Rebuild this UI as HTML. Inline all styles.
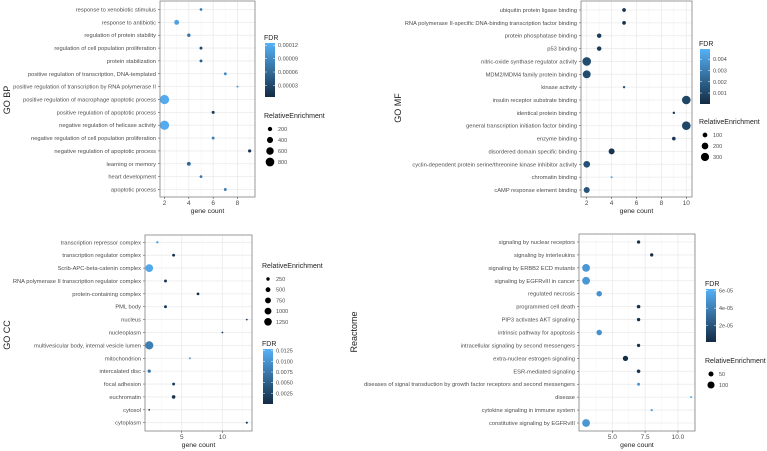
<!DOCTYPE html>
<html><head><meta charset="utf-8">
<style>
html,body{margin:0;padding:0;background:#fff;}
svg{display:block;font-family:"Liberation Sans",sans-serif;}
</style></head><body>
<svg id="c" width="767" height="451" viewBox="0 0 767 451"></svg>
<script>
// ---- GO BP ----
const bpTerms=["response to xenobiotic stimulus","response to antibiotic","regulation of protein stability","regulation of cell population proliferation","protein stabilization","positive regulation of transcription, DNA-templated","positive regulation of transcription by RNA polymerase II","positive regulation of macrophage apoptotic process","positive regulation of apoptotic process","negative regulation of helicase activity","negative regulation of cell population proliferation","negative regulation of apoptotic process","learning or memory","heart development","apoptotic process"];
const bpCount=[5,3,4,5,5,7,8,2,6,2,6,9,4,5,7];
const bpRE=[80,250,120,90,90,90,45,900,100,900,85,110,160,80,90];
const bpFDR=[0.00008,0.00011,0.00007,0.00003,0.00005,0.00009,0.00011,0.00012,0.00002,0.00012,0.00008,0.00001,0.00006,0.00007,0.00008];
const bpXTicks=[2,4,6,8];
const bpFdrTicks=[0.00012,0.00009,0.00006,0.00003];
const bpFdrLabels=["0.00012","0.00009","0.00006","0.00003"];
const bpReTicks=[200,400,600,800];
// ---- GO MF ----
const mfTerms=["ubiquitin protein ligase binding","RNA polymerase II-specific DNA-binding transcription factor binding","protein phosphatase binding","p53 binding","nitric-oxide synthase regulator activity","MDM2/MDM4 family protein binding","kinase activity","insulin receptor substrate binding","identical protein binding","general transcription initiation factor binding","enzyme binding","disordered domain specific binding","cyclin-dependent protein serine/threonine kinase inhibitor activity","chromatin binding","cAMP response element binding"];
const mfCount=[5,5,3,3,2,2,5,10,9,10,9,4,2,4,2];
const mfRE=[60,60,90,90,330,280,25,330,25,330,60,160,200,20,160];
const mfFDR=[0.0002,0.0002,0.0006,0.0006,0.0012,0.0012,0.0015,0.0010,0.0003,0.0010,0.0006,0.0004,0.0014,0.0048,0.0015];
const mfXTicks=[2,4,6,8,10];
const mfFdrTicks=[0.004,0.003,0.002,0.001];
const mfFdrLabels=["0.004","0.003","0.002","0.001"];
const mfReTicks=[100,200,300];
// ---- GO CC ----
const ccTerms=["transcription repressor complex","transcription regulator complex","Scrib-APC-beta-catenin complex","RNA polymerase II transcription regulator complex","protein-containing complex","PML body","nucleus","nucleoplasm","multivesicular body, internal vesicle lumen","mitochondrion","intercalated disc","focal adhesion","euchromatin","cytosol","cytoplasm"];
const ccCount=[2,4,1,3,7,3,13,10,1,6,1,4,4,1,13];
const ccRE=[120,180,1300,180,160,180,70,70,1450,80,230,180,280,70,100];
const ccFDR=[0.0115,0.0005,0.0120,0.0010,0.0003,0.0012,0.0020,0.0010,0.0080,0.0110,0.0070,0.0015,0.0010,0.0020,0.0015];
const ccXTicks=[5,10];
const ccFdrTicks=[0.0125,0.0100,0.0075,0.0050,0.0025];
const ccFdrLabels=["0.0125","0.0100","0.0075","0.0050","0.0025"];
const ccReTicks=[250,500,750,1000,1250];
// ---- Reactome ----
const rcTerms=["signaling by nuclear receptors","signaling by interleukins","signaling by ERBB2 ECD mutants","signaling by EGFRvIII in cancer","regulated necrosis","programmed cell death","PIP3 activates AKT signaling","intrinsic pathway for apoptosis","intracellular signaling by second messengers","extra-nuclear estrogen signaling","ESR-mediated signaling","diseases of signal transduction by growth factor receptors and second messengers","disease","cytokine signaling in immune system","constitutive signaling by EGFRvIII"];
const rcCount=[7,8,3,3,4,7,7,4,7,6,7,7,11,8,3];
const rcRE=[22,22,120,120,60,25,22,60,22,55,25,18,8,10,120];
const rcFDR=[0.000004,0.000003,0.000050,0.000050,0.000048,0.000004,0.000005,0.000048,0.000006,0.000003,0.000006,0.000052,0.000058,0.000055,0.000050];
const rcXTicks=[5,7.5,10];
const rcXLabels=["5.0","7.5","10.0"];
const rcFdrTicks=[0.00006,0.00004,0.00002];
const rcFdrLabels=["6e-05","4e-05","2e-05"];
const rcReTicks=[50,100];

const NS="http://www.w3.org/2000/svg";
const svg=document.getElementById('c');
function mk(tag,attrs,parent,text){const e=document.createElementNS(NS,tag);for(const k in attrs)e.setAttribute(k,attrs[k]);if(text!==undefined)e.textContent=text;(parent||svg).appendChild(e);return e;}
function lerp(a,b,t){return a+(b-a)*t;}
function color(v,lo,hi){let t=Math.max(0,Math.min(1,(v-lo)/(hi-lo)));const c0=[19,43,67],c1=[86,177,247];return `rgb(${Math.round(lerp(c0[0],c1[0],t))},${Math.round(lerp(c0[1],c1[1],t))},${Math.round(lerp(c0[2],c1[2],t))})`;}

function panel(p){
  const g=mk('g',{},svg);
  
  
  const xs=v=>p.bx0+(v-p.xd0)/(p.xd1-p.xd0)*(p.bx1-p.bx0);
  const n=p.terms.length;
  const ys=i=>p.r0+(p.r1-p.r0)*i/(n-1);
  const rs=v=>Math.sqrt(v/p.reMax)*p.rMax;
  const grid=mk('g',{},g);
  
  for(let i=0;i<p.xticks.length;i++){
    mk('line',{x1:xs(p.xticks[i]),x2:xs(p.xticks[i]),y1:p.by0,y2:p.by1,stroke:'#ebebeb','stroke-width':0.8},grid);
    if(i<p.xticks.length-1){const m=(p.xticks[i]+p.xticks[i+1])/2;mk('line',{x1:xs(m),x2:xs(m),y1:p.by0,y2:p.by1,stroke:'#f4f4f4','stroke-width':0.5},grid);}
  }
  if(p.xticks.length){const st=p.xticks[1]-p.xticks[0]||5;const m0=p.xticks[0]-st/2,m1=p.xticks[p.xticks.length-1]+st/2;
    if(xs(m0)>p.bx0)mk('line',{x1:xs(m0),x2:xs(m0),y1:p.by0,y2:p.by1,stroke:'#f4f4f4','stroke-width':0.5},grid);
    if(xs(m1)<p.bx1)mk('line',{x1:xs(m1),x2:xs(m1),y1:p.by0,y2:p.by1,stroke:'#f4f4f4','stroke-width':0.5},grid);}
  for(let i=0;i<n;i++)mk('line',{x1:p.bx0,x2:p.bx1,y1:ys(i),y2:ys(i),stroke:'#ebebeb','stroke-width':0.8},grid);
  for(let i=0;i<n;i++){
    const t=mk('text',{x:p.bx0-4,y:ys(i)+2,'text-anchor':'end','font-size':5.75,fill:'#4d4d4d'},g,p.terms[i]);
    
    mk('line',{x1:p.bx0-2,x2:p.bx0,y1:ys(i),y2:ys(i),stroke:'#333','stroke-width':0.5},g);
  }
  for(let i=0;i<n;i++){
    const c=mk('circle',{cx:xs(p.count[i]),cy:ys(i),r:rs(p.re[i]),fill:color(p.fdr[i],p.fd0,p.fd1)},g);
    
  }
  const b=mk('rect',{x:p.bx0,y:p.by0,width:p.bx1-p.bx0,height:p.by1-p.by0,fill:'none',stroke:'#7f7f7f','stroke-width':0.8},g);
  
  for(let i=0;i<p.xticks.length;i++){
    const x=xs(p.xticks[i]);
    mk('line',{x1:x,x2:x,y1:p.by1,y2:p.by1+2,stroke:'#333','stroke-width':0.5},g);
    const t=mk('text',{x:x,y:p.by1+8,'text-anchor':'middle','font-size':6.5,fill:'#4d4d4d'},g,p.xlabels?p.xlabels[i]:String(p.xticks[i]));
    
  }
  const xt=mk('text',{x:(p.bx0+p.bx1)/2,y:p.by1+16,'text-anchor':'middle','font-size':6.8,fill:'#222'},g,'gene count');
  
  const yt=mk('text',{x:0,y:0,transform:`translate(${p.ytx},${p.yty}) rotate(-90)`,'text-anchor':'middle','font-size':9,fill:'#222'},g,p.title);
  
  const fl=mk('g',{},g);
  mk('text',{x:p.lx,y:p.fty,'font-size':7,fill:'#222'},fl,'FDR');
  const gid='grad-'+p.name;
  const lg=mk('linearGradient',{id:gid,x1:0,y1:1,x2:0,y2:0},mk('defs',{},fl));
  mk('stop',{offset:0,'stop-color':'#132B43'},lg);mk('stop',{offset:1,'stop-color':'#56B1F7'},lg);
  mk('rect',{x:p.lx+1,y:p.fb0,width:10,height:p.fb1-p.fb0,fill:`url(#${gid})`},fl);
  const fy=v=>p.fb1-(v-p.fd0)/(p.fd1-p.fd0)*(p.fb1-p.fb0);
  for(let i=0;i<p.fdrTicks.length;i++){
    const y=fy(p.fdrTicks[i]);
    mk('line',{x1:p.lx+1,x2:p.lx+3,y1:y,y2:y,stroke:'#fff','stroke-width':0.5},fl);
    mk('line',{x1:p.lx+9,x2:p.lx+11,y1:y,y2:y,stroke:'#fff','stroke-width':0.5},fl);
    mk('text',{x:p.lx+14,y:y+2,'font-size':5.5,fill:'#4d4d4d'},fl,p.fdrLabels[i]);
  }
  const rl=mk('g',{},g);
  mk('text',{x:p.lx,y:p.rty,'font-size':7,fill:'#222'},rl,'RelativeEnrichment');
  for(let i=0;i<p.reTicks.length;i++){
    const y=p.rty+11+i*p.rstep;
    mk('circle',{cx:p.lx+6,cy:y,r:rs(p.reTicks[i]),fill:'#000'},rl);
    mk('text',{x:p.lx+14,y:y+2,'font-size':5.5,fill:'#4d4d4d'},rl,String(p.reTicks[i]));
  }
}

panel({name:'go-bp',title:'GO BP',terms:bpTerms,count:bpCount,re:bpRE,fdr:bpFDR,xticks:bpXTicks,
  bx0:160,bx1:255,by0:1,by1:197,xd0:1.63,xd1:9.44,r0:9.5,r1:189.5,reMax:900,rMax:4.6,
  fd0:0.000004,fd1:0.000125,fdrTicks:bpFdrTicks,fdrLabels:bpFdrLabels,reTicks:bpReTicks,
  ytx:10,yty:100,lx:264,fty:40,fb0:43,fb1:97,rty:118,rstep:11});
panel({name:'go-mf',title:'GO MF',terms:mfTerms,count:mfCount,re:mfRE,fdr:mfFDR,xticks:mfXTicks,
  bx0:581,bx1:692,by0:1,by1:197,xd0:1.54,xd1:10.46,r0:10,r1:190,reMax:330,rMax:4.3,
  fd0:0.00003,fd1:0.0049,fdrTicks:mfFdrTicks,fdrLabels:mfFdrLabels,reTicks:mfReTicks,
  ytx:401,yty:108,lx:699,fty:46,fb0:49,fb1:104,rty:124,rstep:11});
panel({name:'go-cc',title:'GO CC',terms:ccTerms,count:ccCount,re:ccRE,fdr:ccFDR,xticks:ccXTicks,
  bx0:145,bx1:252,by0:235,by1:431,xd0:0.48,xd1:13.64,r0:242.3,r1:422.7,reMax:1450,rMax:4.1,
  fd0:0.0,fd1:0.0129,fdrTicks:ccFdrTicks,fdrLabels:ccFdrLabels,reTicks:ccReTicks,
  ytx:10,yty:335,lx:262,fty:346,fb0:349,fb1:404,rty:268,rstep:10.7});
panel({name:'reactome',title:'Reactome',terms:rcTerms,count:rcCount,re:rcRE,fdr:rcFDR,xticks:rcXTicks,xlabels:rcXLabels,
  bx0:579,bx1:695,by0:234,by1:431,xd0:2.46,xd1:11.3,r0:242,r1:423,reMax:120,rMax:3.9,
  fd0:0.0000012,fd1:0.000062,fdrTicks:rcFdrTicks,fdrLabels:rcFdrLabels,reTicks:rcReTicks,
  ytx:357,yty:332,lx:705,fty:286,fb0:289,fb1:342,rty:363,rstep:11});
</script>
</body></html>
